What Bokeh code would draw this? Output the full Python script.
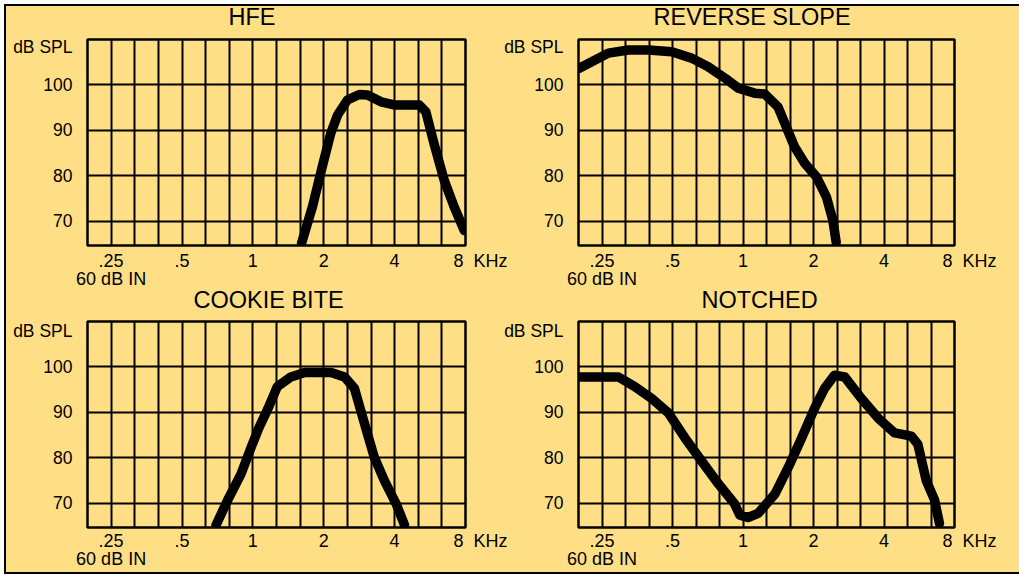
from bokeh.plotting import figure
from bokeh.models import FixedTicker, Range1d
from bokeh.layouts import column, row
from bokeh.embed import file_html
from bokeh.resources import INLINE

BG = "#FFDF86"
FONT = "Liberation Sans"
NB = "\u00a0"

# axis data
x_ticks = [0.25, 0.5, 1, 2, 4, 8]
x_tick_labels = [".25\n60 dB IN", ".5", "1", "2", "4", NB * 6 + "8" + NB * 2 + "KHz"]
y_ticks = [70, 80, 90, 100]
y_tick_labels = ["70", "80", "90", "100"]
y_unit_label = "dB SPL"

# series (frequency in kHz, level in dB SPL)
hfe_khz = [1.61, 1.79, 1.97, 2.14, 2.29, 2.52, 2.83, 3.07, 3.5, 3.98, 5.09, 5.43, 5.88, 6.5, 7.16, 7.9]
hfe_db = [65.2, 73.2, 82.0, 89.3, 93.4, 96.7, 97.9, 97.8, 96.3, 95.6, 95.6, 94.1, 87.1, 79.0, 73.2, 68.0]

rev_khz = [0.2, 0.226, 0.266, 0.324, 0.394, 0.496, 0.603, 0.71, 0.837, 0.955, 1.12, 1.24, 1.41,
           1.53, 1.66, 1.84, 2.06, 2.27, 2.42, 2.5]
rev_db = [103.7, 105.1, 107.0, 107.7, 107.7, 107.3, 105.9, 104.0, 101.5, 99.3, 98.2, 98.0, 95.2,
          90.8, 86.4, 82.7, 79.8, 75.4, 70.2, 65.4]

cookie_khz = [0.697, 0.781, 0.891, 0.981, 1.06, 1.16, 1.27, 1.45, 1.66, 2.15, 2.45, 2.7, 2.88,
              3.07, 3.28, 3.62, 4.06, 4.41]
cookie_db = [65.2, 70.7, 76.5, 82.2, 86.6, 90.9, 95.7, 97.8, 98.8, 98.8, 97.8, 95.3, 90.2,
             85.2, 80.1, 75.0, 69.9, 65.2]

notch_khz = [0.199, 0.294, 0.345, 0.407, 0.48, 0.565, 0.666, 0.785, 0.92, 0.97, 1.05, 1.16, 1.37,
             1.56, 1.78, 2.02, 2.23, 2.46, 2.72, 3.2, 3.77, 4.44, 5.23, 5.58, 6.06, 6.58, 6.9]
notch_db = [97.8, 97.8, 95.7, 93.1, 89.9, 84.4, 79.3, 74.3, 69.9, 67.4, 66.9, 67.8, 72.1,
            77.9, 84.4, 90.9, 95.3, 98.2, 97.8, 93.1, 88.8, 85.5, 84.8, 83.0, 75.0, 70.7, 65.6]

XMIN = 0.25 * 2 ** (-1 / 3)
XMAX = 8.0
YMIN = 64.7
YMAX = 110.0
# third-octave vertical grid
grid_x = [0.25 * 2 ** ((i - 1) / 3) for i in range(1, 16)]


def panel(title, fx, db, fw, left, right, top, bottom, title_offset, title_standoff,
          unit_y, x_standoff):
    p = figure(frame_width=fw, frame_height=206, x_axis_type="log",
               x_range=Range1d(XMIN, XMAX), y_range=Range1d(YMIN, YMAX),
               output_backend="svg", toolbar_location=None,
               min_border_left=left, min_border_right=right,
               min_border_top=top, min_border_bottom=bottom,
               background_fill_color=None, border_fill_color=None,
               outline_line_color="black", outline_line_width=2.5)
    p.title.text = title
    p.title.align = "left"
    p.title.offset = title_offset
    p.title.standoff = title_standoff
    p.title.vertical_align = "top"
    p.title.text_font = FONT
    p.title.text_font_size = "23.5px"
    p.title.text_font_style = "normal"
    p.title.text_color = "black"

    for ax in (p.xaxis[0], p.yaxis[0]):
        ax.axis_line_color = None
        ax.major_tick_line_color = None
        ax.minor_tick_line_color = None
        ax.major_tick_out = 0
        ax.major_tick_in = 0
        ax.minor_tick_out = 0
        ax.minor_tick_in = 0
        ax.major_label_text_font = FONT
        ax.major_label_text_color = "black"
    p.xaxis.major_label_text_font_size = "18px"
    p.yaxis.major_label_text_font_size = "17.5px"
    p.xaxis.ticker = FixedTicker(ticks=x_ticks, minor_ticks=[])
    p.xaxis.major_label_overrides = {t: s for t, s in zip(x_ticks, x_tick_labels)}
    p.xaxis.major_label_standoff = x_standoff
    p.xaxis.major_label_text_line_height = 0.9

    yt = y_ticks + [unit_y]
    p.yaxis.ticker = FixedTicker(ticks=yt, minor_ticks=[])
    p.yaxis.major_label_overrides = {t: s for t, s in zip(yt, y_tick_labels + [y_unit_label])}
    p.yaxis.major_label_standoff = 15

    p.xgrid.ticker = FixedTicker(ticks=grid_x, minor_ticks=[])
    p.ygrid.ticker = FixedTicker(ticks=y_ticks, minor_ticks=[])
    for g in (p.xgrid[0], p.ygrid[0]):
        g.grid_line_color = "black"
        g.grid_line_width = 2
        g.grid_line_alpha = 1.0

    p.line(fx, db, line_color="black", line_width=9.5, line_cap="round", line_join="round")
    return p


tl = panel("HFE", hfe_khz, hfe_db, 378, 87, 47, 45, 60, 141, 16, 108.4, 5)
tr = panel("REVERSE SLOPE", rev_khz, rev_db, 376, 76, 66, 45, 60, 75, 16, 108.4, 5)
bl = panel("COOKIE BITE", cookie_khz, cookie_db, 378, 87, 47, 44, 60, 106, 14, 108.0, 3)
br = panel("NOTCHED", notch_khz, notch_db, 376, 76, 66, 44, 60, 123, 14, 108.0, 3)

tr.margin = (0, 0, 0, -11)
br.margin = (0, 0, 0, -11)
top_row = row(tl, tr)
bottom_row = row(bl, br)
top_row.margin = (-6, 0, 0, 0)
bottom_row.margin = (-28, 0, -13, 0)

root = column(top_row, bottom_row)
root.styles = {"background-color": BG, "overflow": "hidden",
               "box-shadow": "inset 4px 4px 0 0 #fff, inset 6px 6px 0 0 #000, inset 0 -2px 0 0 #000"}

open("out.html", "w").write(file_html(root, INLINE))
